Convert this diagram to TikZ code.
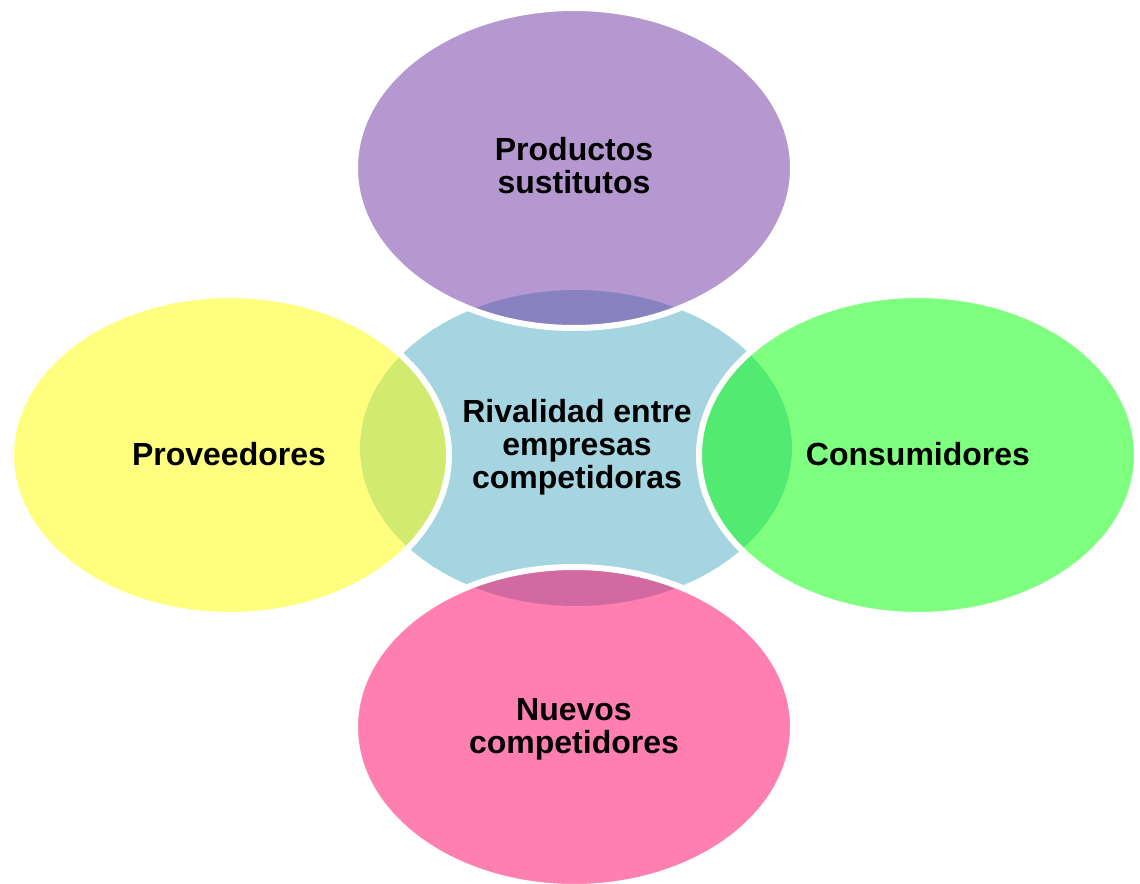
\documentclass[tikz,border=0pt]{standalone}
\usepackage{fontspec}
\setmainfont{Liberation Sans}
\usetikzlibrary{shapes.geometric}
\definecolor{cblue}{HTML}{A6D5E2}
\definecolor{cpurple}{HTML}{6B31A1}
\definecolor{cyellow}{HTML}{FFFF00}
\definecolor{cgreen}{HTML}{00FF00}
\definecolor{cpink}{HTML}{FF0062}
\begin{document}
\begin{tikzpicture}[x=0.75pt,y=-0.75pt,
  blob/.style={ellipse, inner sep=0pt, minimum width=324pt, minimum height=237pt},
  outer/.style={blob, minimum width=328.5pt, minimum height=240pt, fill=#1, fill opacity=0.5, draw=white, draw opacity=1, line width=4.5pt},
  lbl/.style={font=\bfseries\fontsize{24}{24.75}\selectfont, align=center, text=black, inner sep=0pt}]
\useasboundingbox (0,0) rectangle (1140,884);
\node[blob, fill=cblue] (mid) at (576,448) {};
\node[outer=cpurple] (top) at (574,168) {};
\node[outer=cyellow] (left) at (230,455) {};
\node[outer=cgreen] (right) at (918,455) {};
\node[outer=cpink] (bottom) at (574,727) {};
\node[lbl] (topt) at (574,166) {Productos\\sustitutos};
\node[lbl] (midt) at (577,447) {Rivalidad entre\\empresas\\competidoras};
\node[lbl] (leftt) at (229,454) {Proveedores};
\node[lbl] (rightt) at (918,454) {Consumidores};
\node[lbl] (bottomt) at (574,729) {Nuevos\\competidores};
\end{tikzpicture}
\end{document}
